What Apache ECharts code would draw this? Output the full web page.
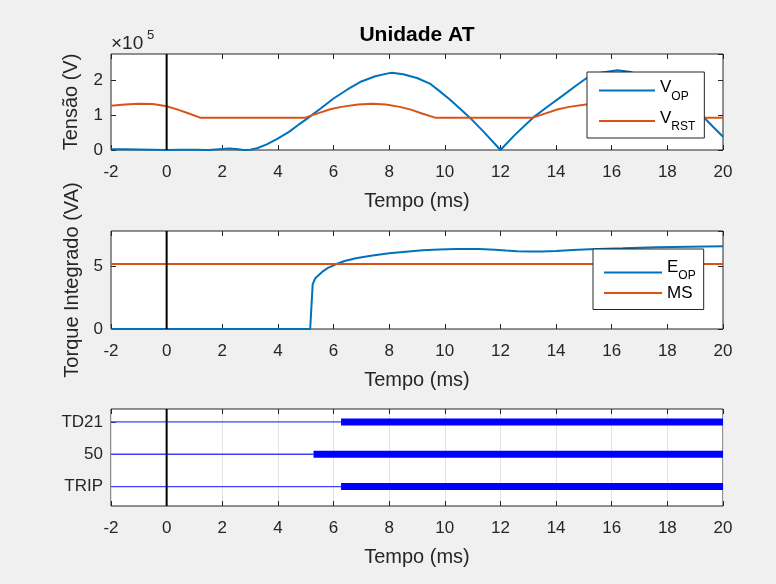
<!DOCTYPE html>
<html>
<head>
<meta charset="utf-8">
<script src="https://cdn.jsdelivr.net/npm/echarts@6/dist/echarts.min.js"></script>
<style>
html,body{margin:0;padding:0;background:#f0f0f0;}
#chart{width:776px;height:584px;}
</style>
</head>
<body>
<div id="chart"></div>
<script>
// ---------- data ----------
const tStart = -2, tEnd = 20, tStep = 2;
const markerTime = 0;

// Tensão, in units of 1e5 V
const vopTime  = [-2,-1.5,-1,-0.5,0,0.5,1,1.5,2,2.25,2.5,2.77,3,3.25,3.6,3.96,4.4,4.8,5.1,5.5,6,6.5,7,7.5,8,8.1,8.5,9,9.46,9.8,10.18,10.5,10.9,11.4,12,12.5,13.17,13.7,14.25,14.7,15.1,15.6,16.2,16.7,17.2,17.66,18,18.4,18.9,19.3,19.65,20];
const vopValue = [0.02,0.02,0.015,0.01,0,0.01,0.01,0,0.03,0.04,0.03,0,0.01,0.05,0.16,0.31,0.52,0.76,0.93,1.17,1.48,1.74,1.97,2.12,2.21,2.22,2.18,2.07,1.91,1.70,1.45,1.22,0.93,0.52,0,0.42,0.93,1.25,1.57,1.84,2.07,2.22,2.29,2.24,2.10,1.93,1.74,1.50,1.20,0.95,0.66,0.38];
const vrstTime  = [-2,-1.5,-1,-0.5,0,0.4,0.8,1.2,4.98,5.38,5.88,6.28,6.88,7.38,7.88,8.38,8.78,9.18,9.65,13.17,13.57,14.07,14.47,15.07,15.57,16.07,16.57,16.97,17.37,17.84,20];
const vrstValue = [1.27,1.31,1.33,1.32,1.26,1.16,1.05,0.93,0.93,1.04,1.17,1.24,1.31,1.33,1.31,1.24,1.16,1.05,0.93,0.93,1.04,1.17,1.24,1.31,1.33,1.31,1.24,1.16,1.05,0.93,0.93];
const voltScale = 1e5;
const voltMax = 2.76;

// Torque integrado (VA)
const eopTime  = [-2,5.16,5.25,5.34,5.6,5.8,6.08,6.4,6.8,7.4,8,8.6,9.2,9.8,10.4,11.24,11.8,12.2,12.6,13.04,13.5,14,14.6,15.2,16.4,17.6,18.8,20];
const eopValue = [0,0,3.58,4.07,4.6,4.9,5.19,5.45,5.67,5.9,6.07,6.2,6.31,6.38,6.42,6.42,6.36,6.29,6.23,6.21,6.22,6.26,6.33,6.39,6.47,6.56,6.6,6.63];
const msLevel = 5.21;
const torqueMax = 7.86;

// Digital signals
const signalNames  = ['TRIP','50','TD21'];
const signalLevels = [1,2,3];
const signalOnset  = [6.27,5.28,6.27];
const signalMin = 0.4, signalMax = 3.4;

// ---------- styling ----------
const FONT = '"Liberation Sans", Arial, Helvetica, sans-serif';
const AX = '#262626';
const BLUE = '#0072BD', ORANGE = '#D95319';

const zip = (xs, ys, k) => xs.map((x, i) => [x, ys[i] * (k || 1)]);

const grids = [
  {left:111, top:54,  width:612, height:96},
  {left:111, top:231, width:612, height:98},
  {left:111, top:409, width:612, height:97}
].map(g => Object.assign(g, {show:true, backgroundColor:'#fff', borderColor:AX, borderWidth:1}));

const noLine = {show:false, onZero:false};
function xPair(gi, grid) {
  const bottom = {
    type:'value', gridIndex:gi, position:'bottom', min:tStart, max:tEnd, interval:tStep,
    axisLine:noLine,
    axisTick:{show:true, inside:true, length:5, lineStyle:{color:AX}},
    axisLabel:{color:AX, fontSize:17, fontFamily:FONT, margin:14},
    splitLine:{show:grid, lineStyle:{color:'#e3e3e3', width:1}},
    name:'Tempo (ms)', nameLocation:'middle', nameGap:41,
    nameTextStyle:{color:AX, fontSize:20, fontFamily:FONT}
  };
  const top = {
    type:'value', gridIndex:gi, position:'top', min:tStart, max:tEnd, interval:tStep,
    axisLine:noLine,
    axisTick:{show:true, inside:true, length:5, lineStyle:{color:AX}},
    axisLabel:{show:false}, splitLine:{show:false}
  };
  return [bottom, top];
}

const tickY = {show:true, inside:true, length:5, lineStyle:{color:AX}};
const yAxes = [
  {type:'value', gridIndex:0, position:'left', min:0, max:voltMax*voltScale, interval:voltScale,
   axisLine:noLine, axisTick:tickY, splitLine:{show:false},
   axisLabel:{color:AX, fontSize:17, fontFamily:FONT, margin:8, showMaxLabel:false, formatter:v => String(Math.round(v/voltScale))},
   name:'Tensão (V)', nameLocation:'middle', nameGap:30, nameTextStyle:{color:AX, fontSize:20, fontFamily:FONT}},
  {type:'value', gridIndex:0, position:'right', min:0, max:voltMax*voltScale, interval:voltScale,
   axisLine:noLine, axisTick:tickY, splitLine:{show:false}, axisLabel:{show:false}},
  {type:'value', gridIndex:1, position:'left', min:0, max:torqueMax, interval:5,
   axisLine:noLine, axisTick:tickY, splitLine:{show:false},
   axisLabel:{color:AX, fontSize:17, fontFamily:FONT, margin:8, showMaxLabel:false},
   name:'Torque Integrado (VA)', nameLocation:'middle', nameGap:29, nameTextStyle:{color:AX, fontSize:20, fontFamily:FONT}},
  {type:'value', gridIndex:1, position:'right', min:0, max:torqueMax, interval:5,
   axisLine:noLine, axisTick:tickY, splitLine:{show:false}, axisLabel:{show:false}},
  {type:'value', gridIndex:2, position:'left', min:signalMin, max:signalMax,
   axisLine:noLine, axisTick:Object.assign({customValues:signalLevels}, tickY), splitLine:{show:false},
   axisLabel:{color:AX, fontSize:17, fontFamily:FONT, margin:8, customValues:signalLevels,
              formatter:v => signalNames[signalLevels.indexOf(Math.round(v))] || ''}},
  {type:'value', gridIndex:2, position:'right', min:signalMin, max:signalMax,
   axisLine:noLine, axisTick:Object.assign({customValues:signalLevels}, tickY), splitLine:{show:false}, axisLabel:{show:false}}
];

const lineBase = {type:'line', showSymbol:false, symbol:'none', clip:false, silent:true, animation:false};
const series = [
  Object.assign({}, lineBase, {name:'VOP', xAxisIndex:0, yAxisIndex:0, color:BLUE, lineStyle:{color:BLUE, width:2}, data:zip(vopTime, vopValue, voltScale)}),
  Object.assign({}, lineBase, {name:'VRST', xAxisIndex:0, yAxisIndex:0, color:ORANGE, lineStyle:{color:ORANGE, width:2}, data:zip(vrstTime, vrstValue, voltScale)}),
  Object.assign({}, lineBase, {name:'m1', xAxisIndex:0, yAxisIndex:0, color:'#000', lineStyle:{color:'#000', width:2}, data:[[markerTime,0],[markerTime,voltMax*voltScale]]}),
  Object.assign({}, lineBase, {name:'EOP', xAxisIndex:2, yAxisIndex:2, color:BLUE, lineStyle:{color:BLUE, width:2}, data:zip(eopTime, eopValue)}),
  Object.assign({}, lineBase, {name:'MS', xAxisIndex:2, yAxisIndex:2, color:ORANGE, lineStyle:{color:ORANGE, width:2}, data:[[tStart,msLevel],[tEnd,msLevel]]}),
  Object.assign({}, lineBase, {name:'m2', xAxisIndex:2, yAxisIndex:2, color:'#000', lineStyle:{color:'#000', width:2}, data:[[markerTime,0],[markerTime,torqueMax]]})
];
signalLevels.forEach((lv, i) => {
  series.push(Object.assign({}, lineBase, {name:'thin'+i, xAxisIndex:4, yAxisIndex:4, color:'#4040ff',
    lineStyle:{color:'#4040ff', width:1.3}, data:[[tStart,lv],[signalOnset[i],lv]]}));
  series.push(Object.assign({}, lineBase, {name:'thick'+i, xAxisIndex:4, yAxisIndex:4, color:'#0000ff',
    lineStyle:{color:'#0000ff', width:7, cap:'butt'}, data:[[signalOnset[i],lv],[tEnd,lv]]}));
});
series.push(Object.assign({}, lineBase, {name:'m3', xAxisIndex:4, yAxisIndex:4, color:'#000', lineStyle:{color:'#000', width:2}, data:[[markerTime,signalMin],[markerTime,signalMax]]}));

const legendLabels = {VOP:'{m|V}{s|OP}', VRST:'{m|V}{s|RST}', EOP:'{e|E}{t|OP}', MS:'{n|MS}'};
const legendCommon = {
  orient:'vertical', icon:'rect', selectedMode:false, backgroundColor:'#fff',
  borderColor:AX, borderWidth:1, borderRadius:0,
  formatter: name => legendLabels[name],
  textStyle:{color:'#000', fontFamily:FONT, fontSize:17, rich:{
    m:{fontSize:17, fontFamily:FONT, color:'#000', height:20, padding:[0,0,6,0]},
    s:{fontSize:12, fontFamily:FONT, color:'#000', height:12, padding:[13,0,1,0]},
    e:{fontSize:17, fontFamily:FONT, color:'#000', height:12, padding:[0,0,10,0]},
    t:{fontSize:12, fontFamily:FONT, color:'#000', height:12, padding:[8,0,2,0]},
    n:{fontSize:17, fontFamily:FONT, color:'#000', height:20}
  }}
};
const legends = [
  Object.assign({}, legendCommon, {data:['VOP','VRST'], left:587, top:72, itemWidth:56, itemHeight:2, itemGap:7, padding:[7,9,5,12]}),
  Object.assign({}, legendCommon, {data:['EOP','MS'], left:593, top:249, itemWidth:58, itemHeight:2, itemGap:3, padding:[10,8,8,11]})
];

const option = {
  backgroundColor:'#f0f0f0',
  animation:false,
  grid:grids,
  xAxis:[].concat(xPair(0,false), xPair(1,false), xPair(2,true)),
  yAxis:yAxes,
  legend:legends,
  series:series,
  graphic:[
    {type:'text', x:417, y:35, z:10, style:{text:'Unidade AT', fill:'#000', font:'bold 21px '+FONT, textAlign:'center', textVerticalAlign:'middle', align:'center', verticalAlign:'middle'}},
    {type:'text', x:111, y:43.5, z:10, style:{text:'×10', fill:AX, font:'19px '+FONT, textAlign:'left', textVerticalAlign:'middle', align:'left', verticalAlign:'middle'}},
    {type:'text', x:147, y:35, z:10, style:{text:'5', fill:AX, font:'13px '+FONT, textAlign:'left', textVerticalAlign:'middle', align:'left', verticalAlign:'middle'}}
  ]
};

const chart = echarts.init(document.getElementById('chart'), null, {renderer:'canvas'});
chart.setOption(option);
</script>
</body>
</html>
